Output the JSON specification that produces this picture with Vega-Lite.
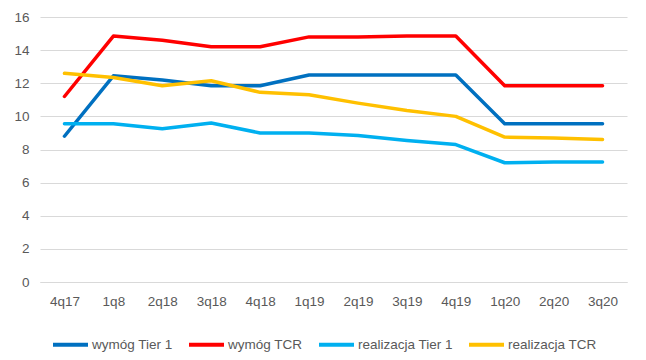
{
  "$schema": "https://vega.github.io/schema/vega-lite/v6.json",
  "width": 587,
  "height": 265,
  "autosize": {"type": "none"},
  "padding": {"left": 40, "top": 17, "right": 19, "bottom": 78},
  "background": "white",
  "config": {
    "view": {"stroke": null},
    "font": "Liberation Sans",
    "axis": {"labelColor": "#595959", "labelFontSize": 13.5, "labelFont": "Liberation Sans"},
    "legend": {"labelColor": "#595959", "labelFontSize": 13.5, "labelFont": "Liberation Sans"}
  },
  "data": {
    "values": [
      {"q": "4q17", "series": "wymóg Tier 1", "v": 8.8},
      {"q": "1q8", "series": "wymóg Tier 1", "v": 12.45},
      {"q": "2q18", "series": "wymóg Tier 1", "v": 12.2},
      {"q": "3q18", "series": "wymóg Tier 1", "v": 11.85},
      {"q": "4q18", "series": "wymóg Tier 1", "v": 11.85},
      {"q": "1q19", "series": "wymóg Tier 1", "v": 12.5},
      {"q": "2q19", "series": "wymóg Tier 1", "v": 12.5},
      {"q": "3q19", "series": "wymóg Tier 1", "v": 12.5},
      {"q": "4q19", "series": "wymóg Tier 1", "v": 12.5},
      {"q": "1q20", "series": "wymóg Tier 1", "v": 9.55},
      {"q": "2q20", "series": "wymóg Tier 1", "v": 9.55},
      {"q": "3q20", "series": "wymóg Tier 1", "v": 9.55},
      {"q": "4q17", "series": "wymóg TCR", "v": 11.2},
      {"q": "1q8", "series": "wymóg TCR", "v": 14.85},
      {"q": "2q18", "series": "wymóg TCR", "v": 14.6},
      {"q": "3q18", "series": "wymóg TCR", "v": 14.2},
      {"q": "4q18", "series": "wymóg TCR", "v": 14.2},
      {"q": "1q19", "series": "wymóg TCR", "v": 14.8},
      {"q": "2q19", "series": "wymóg TCR", "v": 14.8},
      {"q": "3q19", "series": "wymóg TCR", "v": 14.85},
      {"q": "4q19", "series": "wymóg TCR", "v": 14.85},
      {"q": "1q20", "series": "wymóg TCR", "v": 11.85},
      {"q": "2q20", "series": "wymóg TCR", "v": 11.85},
      {"q": "3q20", "series": "wymóg TCR", "v": 11.85},
      {"q": "4q17", "series": "realizacja Tier 1", "v": 9.55},
      {"q": "1q8", "series": "realizacja Tier 1", "v": 9.55},
      {"q": "2q18", "series": "realizacja Tier 1", "v": 9.25},
      {"q": "3q18", "series": "realizacja Tier 1", "v": 9.6},
      {"q": "4q18", "series": "realizacja Tier 1", "v": 9.0},
      {"q": "1q19", "series": "realizacja Tier 1", "v": 9.0},
      {"q": "2q19", "series": "realizacja Tier 1", "v": 8.85},
      {"q": "3q19", "series": "realizacja Tier 1", "v": 8.55},
      {"q": "4q19", "series": "realizacja Tier 1", "v": 8.3},
      {"q": "1q20", "series": "realizacja Tier 1", "v": 7.2},
      {"q": "2q20", "series": "realizacja Tier 1", "v": 7.25},
      {"q": "3q20", "series": "realizacja Tier 1", "v": 7.25},
      {"q": "4q17", "series": "realizacja TCR", "v": 12.6},
      {"q": "1q8", "series": "realizacja TCR", "v": 12.35},
      {"q": "2q18", "series": "realizacja TCR", "v": 11.85},
      {"q": "3q18", "series": "realizacja TCR", "v": 12.15},
      {"q": "4q18", "series": "realizacja TCR", "v": 11.45},
      {"q": "1q19", "series": "realizacja TCR", "v": 11.3},
      {"q": "2q19", "series": "realizacja TCR", "v": 10.8},
      {"q": "3q19", "series": "realizacja TCR", "v": 10.35},
      {"q": "4q19", "series": "realizacja TCR", "v": 10.0},
      {"q": "1q20", "series": "realizacja TCR", "v": 8.75},
      {"q": "2q20", "series": "realizacja TCR", "v": 8.7},
      {"q": "3q20", "series": "realizacja TCR", "v": 8.6}
    ]
  },
  "mark": {"type": "line", "strokeWidth": 3.5, "strokeCap": "round", "strokeJoin": "round"},
  "encoding": {
    "x": {
      "field": "q",
      "type": "nominal",
      "sort": null,
      "scale": {"type": "point", "padding": 0.5},
      "axis": {"title": null, "labelAngle": 0, "ticks": false, "domain": true, "domainColor": "#d9d9d9", "labelPadding": 12, "grid": false}
    },
    "y": {
      "field": "v",
      "type": "quantitative",
      "scale": {"domain": [0, 16], "nice": false},
      "axis": {"title": null, "values": [0, 2, 4, 6, 8, 10, 12, 14, 16], "ticks": false, "domain": false, "gridColor": "#d9d9d9", "labelPadding": 11}
    },
    "color": {
      "field": "series",
      "type": "nominal",
      "scale": {
        "domain": ["wymóg Tier 1", "wymóg TCR", "realizacja Tier 1", "realizacja TCR"],
        "range": ["#0070C0", "#FF0000", "#00B0F0", "#FFC000"]
      },
      "legend": {
        "title": null,
        "orient": "none",
        "legendX": 11,
        "legendY": 308,
        "direction": "horizontal",
        "symbolType": "stroke",
        "symbolSize": 1225,
        "symbolStrokeWidth": 4,
        "labelOffset": 2,
        "columnPadding": 8
      }
    }
  }
}
